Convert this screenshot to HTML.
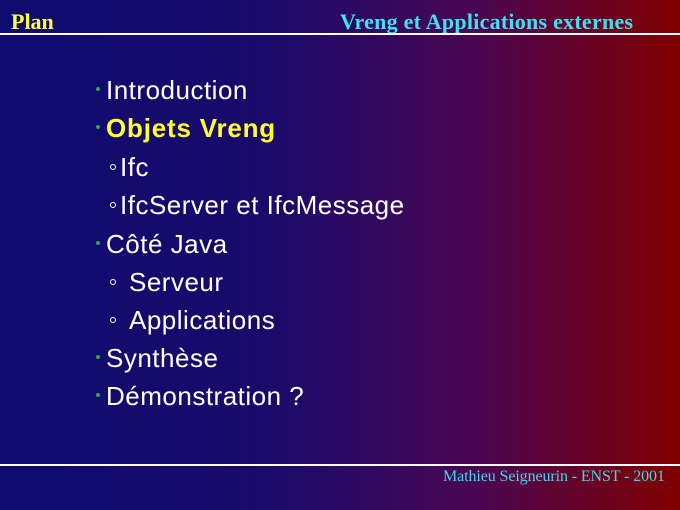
<!DOCTYPE html>
<html><head><meta charset="utf-8"><style>
body{margin:0;width:680px;height:510px;overflow:hidden;background:linear-gradient(to right,#0e0c70 0%,#1a0a6a 40%,#4a0652 70%,#800000 100%);position:relative;font-family:"Liberation Sans",sans-serif;}
.hl{position:absolute;left:0;width:680px;height:2px;background:#fff;}
.t{position:absolute;white-space:nowrap;color:#fff;font-size:26px;letter-spacing:0.5px;line-height:28px;}
.g{position:absolute;width:4px;height:4px;border-radius:50%;background:#2ea84a;}
.c{position:absolute;width:4px;height:4px;border-radius:50%;border:1px solid #fff;}
</style></head><body>
<div style="position:absolute;left:11px;top:9px;font-family:'Liberation Serif',serif;font-weight:bold;font-size:22px;color:#ffff40;">Plan</div>
<div style="position:absolute;left:340px;top:9px;font-family:'Liberation Serif',serif;font-weight:bold;font-size:22px;letter-spacing:0.25px;color:#40e0f0;">Vreng et Applications externes</div>
<div class="hl" style="top:33px"></div>
<div class="hl" style="top:464px"></div>
<div style="position:absolute;left:443px;top:468px;font-family:'Liberation Serif',serif;font-size:16px;letter-spacing:-0.1px;color:#40d8e8;">Mathieu Seigneurin - ENST - 2001</div>

<div class="g" style="left:96px;top:87px"></div><div class="t" style="left:106px;top:76px">Introduction</div>
<div class="g" style="left:96px;top:125px"></div><div class="t" style="left:106px;top:114px;color:#ffff30;font-weight:bold;letter-spacing:0.8px">Objets Vreng</div>
<div class="c" style="left:110px;top:164px"></div><div class="t" style="left:120px;top:153px">Ifc</div>
<div class="c" style="left:110px;top:202px"></div><div class="t" style="left:120px;top:191px">IfcServer et IfcMessage</div>
<div class="g" style="left:96px;top:241px"></div><div class="t" style="left:106px;top:230px">Côté Java</div>
<div class="c" style="left:110px;top:279px"></div><div class="t" style="left:129px;top:268px">Serveur</div>
<div class="c" style="left:110px;top:317px"></div><div class="t" style="left:129px;top:306px">Applications</div>
<div class="g" style="left:96px;top:355px"></div><div class="t" style="left:106px;top:344px">Synthèse</div>
<div class="g" style="left:96px;top:393px"></div><div class="t" style="left:106px;top:382px">Démonstration ?</div>
</body></html>
